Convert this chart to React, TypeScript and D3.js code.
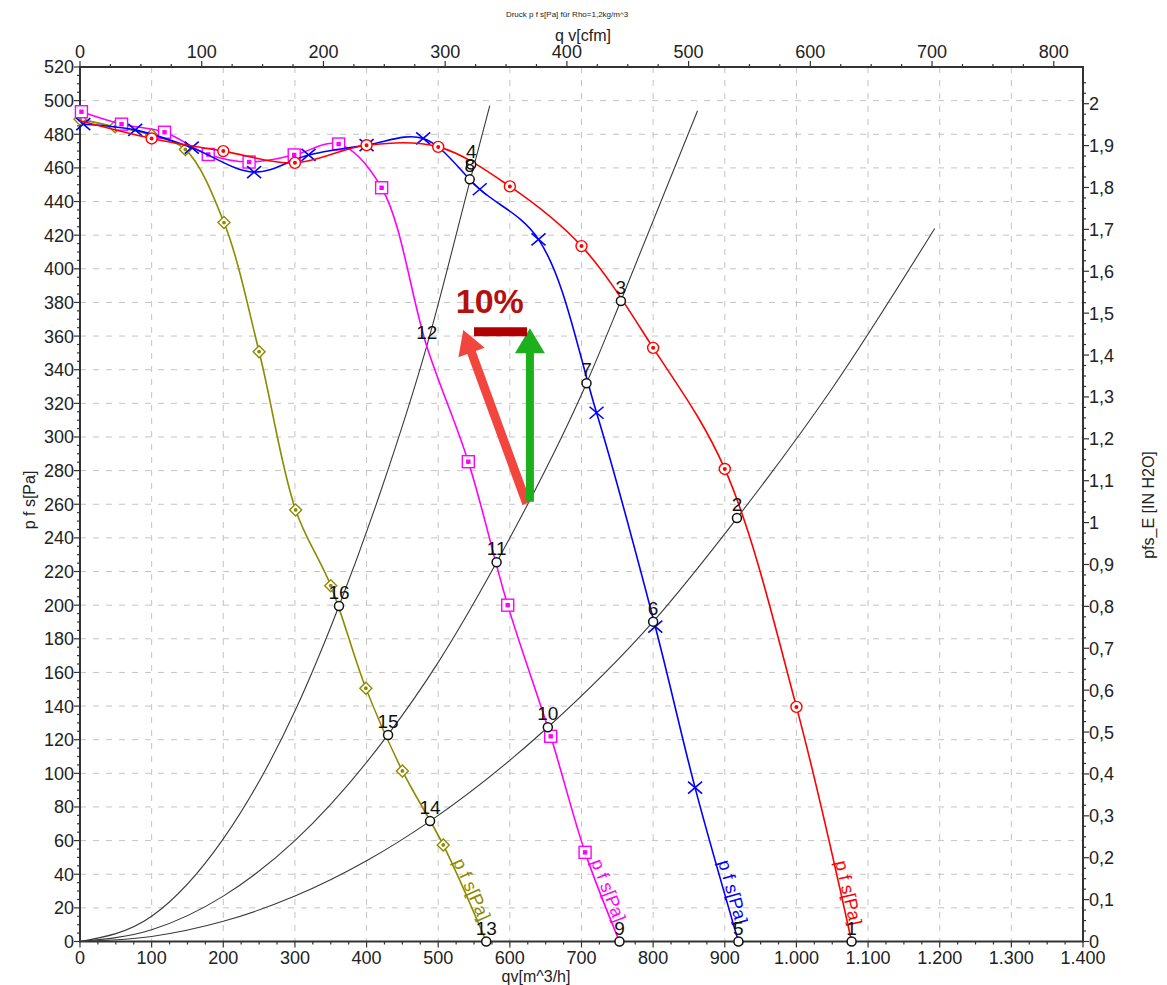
import React, { useEffect, useRef } from 'react';
import * as d3 from 'd3';

// fan curves: flow q [m^3/h] and static pressure p [Pa]
const qRed = [0, 100, 200, 300, 400, 500, 600, 700, 800, 900, 1000, 1077];
const pRed = [488, 477.5, 470, 463, 473.5, 472.5, 449, 413.5, 353, 281, 139.5, 0];

const qBlue = [4.6, 77, 156, 243, 319, 400, 479, 558, 640, 721, 803, 858.5, 919];
const pBlue = [486, 482.6, 472, 457.5, 467.7, 473.6, 477.5, 447.3, 417.5, 314.4, 187.2, 91.5, 0];

const qMagenta = [2, 58, 118, 179, 236, 299, 361, 421, 484, 542, 597, 657, 705, 753];
const pMagenta = [493.4, 486, 481.2, 468, 463.5, 467.7, 474.2, 448.2, 354, 285.3, 200, 122, 53, 0];
const magentaUnmarked = [484];

const qOlive = [0, 49, 100, 147, 201, 250, 301, 350, 399, 450, 507, 567];
const pOlive = [489, 484.5, 479.5, 471, 427.5, 350.7, 256.6, 211.6, 150.6, 101.4, 57.4, 0];

// system (resistance) curves
const qSys1 = [0, 100, 200, 300, 361.5, 420, 484, 546, 572];
const pSys1 = [0, 15, 61, 137, 199.5, 268, 354, 455, 497];
const qSys2 = [0, 100, 200, 300, 430, 500, 581.5, 707, 755, 862];
const pSys2 = [0, 7, 27, 60, 123, 166, 225.5, 332, 381, 494];
const qSys3 = [0, 100, 200, 300, 400, 488.6, 653, 800, 917, 1050, 1193];
const pSys3 = [0, 3, 12, 27, 48, 71.6, 127.4, 190.2, 251.8, 329, 424];

// operating points
const nodeIds = [1, 2, 3, 4, 5, 6, 7, 8, 9, 10, 11, 12, 13, 14, 15, 16];
const nodeQ = [1077, 917, 755, 546, 919, 800, 707, 544, 753, 653, 581.5, 484, 567, 488.6, 430, 361.5];
const nodeP = [0, 251.8, 380.9, 462, 0, 190.2, 332, 453.2, 0, 127.4, 225.5, 354, 0, 71.6, 122.8, 199.5];
const nodesWithoutCircle = [12];

// annotation: arrows and "10%" (data units)
const redArrow = { q1: 623.5, p1: 260.5, q2: 535, p2: 363.6 };
const greenArrow = { q1: 628, p1: 261.5, q2: 628, p2: 364.7 };
const barQ = [550, 624];
const barP = 362.5;
const pctQ = 572;
const pctP = 381;

const PA_PER_INH2O = 249.09;
const M3H_PER_CFM = 1.699;

const FONT = '"Liberation Sans", Arial, sans-serif';

type Marker = 'circle' | 'x' | 'square' | 'diamond';

const App: React.FC = () => {
  const svgRef = useRef<SVGSVGElement | null>(null);

  useEffect(() => {
    if (!svgRef.current) return;
    const svg = d3.select(svgRef.current);
    svg.selectAll('*').remove();

    const width = 1167;
    const height = 985;
    const left = 80, right = 1083, top = 67, bottom = 941.5;

    svg.append('rect').attr('width', width).attr('height', height).attr('fill', '#fff');

    const x = d3.scaleLinear().domain([0, 1400]).range([left, right]);
    const y = d3.scaleLinear().domain([0, 520]).range([bottom, top]);
    const xCfm = d3.scaleLinear().domain([0, 1400 / M3H_PER_CFM]).range([left, right]);
    const yIn = d3.scaleLinear().domain([0, 520 / PA_PER_INH2O]).range([bottom, top]);

    // grid
    const grid = svg.append('g').attr('stroke', '#c4c4c4').attr('stroke-width', 1).attr('stroke-dasharray', '6,7');
    d3.range(20, 520, 20).forEach(v => {
      grid.append('line').attr('x1', left).attr('x2', right).attr('y1', y(v)).attr('y2', y(v));
    });
    d3.range(100, 1400, 100).forEach(v => {
      grid.append('line').attr('x1', x(v)).attr('x2', x(v)).attr('y1', top).attr('y2', bottom);
    });

    // frame
    svg.append('rect')
      .attr('x', left).attr('y', top).attr('width', right - left).attr('height', bottom - top)
      .attr('fill', 'none').attr('stroke', '#333').attr('stroke-width', 2);

    const ticks = svg.append('g').attr('stroke', '#333').attr('stroke-width', 1.2);
    const labels = svg.append('g').attr('font-family', FONT).attr('font-size', 18).attr('fill', '#222');

    // left axis
    d3.range(0, 521, 5).forEach(v => {
      const major = v % 20 === 0;
      ticks.append('line').attr('x1', left).attr('x2', left - (major ? 6 : 3)).attr('y1', y(v)).attr('y2', y(v));
      if (major) {
        labels.append('text').attr('x', left - 6).attr('y', y(v)).attr('dy', '0.36em')
          .attr('text-anchor', 'end').text(String(v));
      }
    });

    // bottom axis
    const fmtThousand = (v: number) => v >= 1000 ? `${Math.floor(v / 1000)}.${String(v % 1000).padStart(3, '0')}` : String(v);
    d3.range(0, 1401, 25).forEach(v => {
      const major = v % 100 === 0;
      ticks.append('line').attr('x1', x(v)).attr('x2', x(v)).attr('y1', bottom).attr('y2', bottom + (major ? 6 : 3));
      if (major) {
        labels.append('text').attr('x', x(v)).attr('y', bottom + 22).attr('text-anchor', 'middle').text(fmtThousand(v));
      }
    });

    // top axis (cfm)
    d3.range(0, 825, 25).forEach(v => {
      const major = v % 100 === 0;
      ticks.append('line').attr('x1', xCfm(v)).attr('x2', xCfm(v)).attr('y1', top).attr('y2', top - (major ? 6 : 3));
      if (major) {
        labels.append('text').attr('x', xCfm(v)).attr('y', top - 9).attr('text-anchor', 'middle').text(String(v));
      }
    });

    // right axis (in H2O)
    d3.range(0, 83).forEach(i => {
      const v = i * 0.025;
      const major = i % 4 === 0;
      ticks.append('line').attr('x1', right).attr('x2', right + (major ? 6 : 3)).attr('y1', yIn(v)).attr('y2', yIn(v));
      if (major) {
        const t = String(Math.round(v * 10) / 10).replace('.', ',');
        labels.append('text').attr('x', right + 6).attr('y', yIn(v)).attr('dy', '0.36em').text(t);
      }
    });

    // axis titles
    const titles = svg.append('g').attr('font-family', FONT).attr('fill', '#222');
    titles.append('text').attr('x', 567).attr('y', 17).attr('font-size', 8).attr('text-anchor', 'middle')
      .text('Druck p f s[Pa] für Rho=1,2kg/m^3');
    titles.append('text').attr('x', 583).attr('y', 41).attr('font-size', 16).attr('text-anchor', 'middle').text('q v[cfm]');
    titles.append('text').attr('x', 536).attr('y', 982).attr('font-size', 16).attr('text-anchor', 'middle').text('qv[m^3/h]');
    titles.append('text').attr('transform', 'translate(35,500) rotate(-90)').attr('font-size', 16)
      .attr('text-anchor', 'middle').text('p f s[Pa]');
    titles.append('text').attr('transform', 'translate(1154,505) rotate(-90)').attr('font-size', 16)
      .attr('text-anchor', 'middle').text('pfs_E [IN H2O]');

    // system curves
    const sysLine = d3.line<[number, number]>().x(d => x(d[0])).y(d => y(d[1])).curve(d3.curveMonotoneX);
    [[qSys1, pSys1], [qSys2, pSys2], [qSys3, pSys3]].forEach(([qs, ps]) => {
      svg.append('path')
        .datum(qs.map((q, i) => [q, ps[i]] as [number, number]))
        .attr('fill', 'none').attr('stroke', '#3a3a3a').attr('stroke-width', 1.1)
        .attr('d', sysLine);
    });

    // fan curves
    const series: { q: number[]; p: number[]; color: string; marker: Marker; markFrom: number; skip: number[] }[] = [
      { q: qOlive, p: pOlive, color: '#8c8c00', marker: 'diamond', markFrom: 0, skip: [] },
      { q: qMagenta, p: pMagenta, color: '#ff00ff', marker: 'square', markFrom: 0, skip: magentaUnmarked },
      { q: qBlue, p: pBlue, color: '#0000ff', marker: 'x', markFrom: 0, skip: [] },
      { q: qRed, p: pRed, color: '#ff0000', marker: 'circle', markFrom: 1, skip: [] },
    ];
    const fanLine = d3.line<[number, number]>().x(d => x(d[0])).y(d => y(d[1])).curve(d3.curveCatmullRom.alpha(0.5));

    series.forEach(s => {
      const pts = s.q.map((q, i) => [q, s.p[i]] as [number, number]);
      svg.append('path').datum(pts).attr('fill', 'none').attr('stroke', s.color).attr('stroke-width', 1.6).attr('d', fanLine);

      const mg = svg.append('g').attr('stroke', s.color).attr('fill', 'none').attr('stroke-width', 1.4);
      pts.slice(s.markFrom, pts.length - 1).forEach(([q, p]) => {
        if (s.skip.includes(q)) return;
        const cx = x(q), cy = y(p);
        if (s.marker === 'circle') {
          mg.append('circle').attr('cx', cx).attr('cy', cy).attr('r', 5.5).attr('fill', '#fff');
          mg.append('circle').attr('cx', cx).attr('cy', cy).attr('r', 1.3).attr('fill', s.color);
        } else if (s.marker === 'x') {
          mg.append('path').attr('d', `M${cx - 7},${cy - 6}L${cx + 7},${cy + 6}M${cx - 7},${cy + 6}L${cx + 7},${cy - 6}`).attr('stroke-width', 1.6);
        } else if (s.marker === 'square') {
          mg.append('rect').attr('x', cx - 6).attr('y', cy - 6).attr('width', 12).attr('height', 12).attr('fill', '#fff');
          mg.append('rect').attr('x', cx - 1.5).attr('y', cy - 1.5).attr('width', 3).attr('height', 3).attr('fill', s.color);
        } else {
          mg.append('path').attr('d', `M${cx},${cy - 6}L${cx + 6},${cy}L${cx},${cy + 6}L${cx - 6},${cy}Z`).attr('fill', '#fff');
          mg.append('circle').attr('cx', cx).attr('cy', cy).attr('r', 1.2).attr('fill', s.color);
        }
      });

      // curve label along the last segment
      const n = pts.length;
      const [qa, pa] = pts[n - 2];
      const [qb, pb] = pts[n - 1];
      const ax = x(qa), ay = y(pa), bx = x(qb), by = y(pb);
      const labelP = 47;
      const t = (pa - labelP) / (pa - pb);
      const lx = ax + (bx - ax) * t;
      const ly = ay + (by - ay) * t;
      const ang = Math.atan2(by - ay, bx - ax) * 180 / Math.PI;
      svg.append('text')
        .attr('transform', `translate(${lx},${ly}) rotate(${ang})`)
        .attr('dy', -2)
        .attr('font-family', FONT).attr('font-size', 18).attr('fill', s.color)
        .text('p f s[Pa]');
    });

    // operating points
    const ng = svg.append('g');
    nodeIds.forEach((id, i) => {
      if (nodesWithoutCircle.includes(id)) return;
      ng.append('circle').attr('cx', x(nodeQ[i])).attr('cy', y(nodeP[i])).attr('r', 4.5)
        .attr('fill', '#fff').attr('stroke', '#111').attr('stroke-width', 1.5);
    });
    nodeIds.forEach((id, i) => {
      ng.append('text').attr('x', x(nodeQ[i])).attr('y', y(nodeP[i]) - 7)
        .attr('text-anchor', 'middle').attr('font-family', FONT).attr('font-size', 19).attr('fill', '#111')
        .text(String(id));
    });

    // annotation arrows
    const arrowPath = (x1: number, y1: number, x2: number, y2: number, shaft: number, headW: number, headL: number) => {
      const len = Math.hypot(x2 - x1, y2 - y1);
      const ux = (x2 - x1) / len, uy = (y2 - y1) / len;
      const nx = -uy, ny = ux;
      const bx = x2 - ux * headL, by = y2 - uy * headL;
      const pt = (px: number, py: number) => `${px},${py}`;
      return `M${pt(x1 + nx * shaft / 2, y1 + ny * shaft / 2)}L${pt(bx + nx * shaft / 2, by + ny * shaft / 2)}` +
        `L${pt(bx + nx * headW / 2, by + ny * headW / 2)}L${pt(x2, y2)}` +
        `L${pt(bx - nx * headW / 2, by - ny * headW / 2)}L${pt(bx - nx * shaft / 2, by - ny * shaft / 2)}` +
        `L${pt(x1 - nx * shaft / 2, y1 - ny * shaft / 2)}Z`;
    };
    svg.append('path')
      .attr('d', arrowPath(x(redArrow.q1), y(redArrow.p1), x(redArrow.q2), y(redArrow.p2), 9, 28, 24))
      .attr('fill', '#f2453d');
    svg.append('path')
      .attr('d', arrowPath(x(greenArrow.q1), y(greenArrow.p1), x(greenArrow.q2), y(greenArrow.p2), 8, 30, 25))
      .attr('fill', '#1cb01c');
    svg.append('line')
      .attr('x1', x(barQ[0])).attr('x2', x(barQ[1])).attr('y1', y(barP)).attr('y2', y(barP))
      .attr('stroke', '#b00000').attr('stroke-width', 9);
    svg.append('text')
      .attr('x', x(pctQ)).attr('y', y(pctP) + 12)
      .attr('text-anchor', 'middle').attr('font-family', FONT).attr('font-weight', 'bold')
      .attr('font-size', 34).attr('fill', '#b50f0f')
      .text('10%');
  }, []);

  return (
    <svg
      ref={svgRef}
      width={1167}
      height={985}
      style={{ position: 'absolute', left: 0, top: 0, display: 'block' }}
    />
  );
};

export default App;
